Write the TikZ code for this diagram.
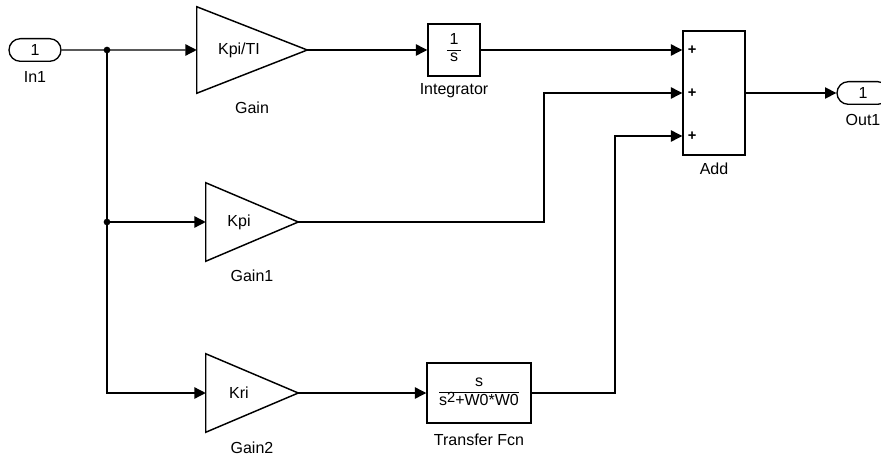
\documentclass[tikz,border=0pt]{standalone}
\usepackage{fontspec}
\setmainfont{Liberation Sans}
\usetikzlibrary{arrows.meta, positioning, shapes.misc, calc}

\begin{document}
\begin{tikzpicture}[
  x=0.75pt, y=-0.75pt,
  every node/.style={font=\fontsize{12}{14}\selectfont},
  port/.style={draw, rounded rectangle, line width=1pt, minimum width=39pt,
               minimum height=17pt, inner sep=0pt},
  blk/.style={draw, line width=1.1pt, inner sep=0pt, align=center},
  tri/.style={inner sep=0pt},
  lbl/.style={inner sep=0pt, text height=9pt, text depth=2.5pt},
  plus/.style={inner sep=0pt, font=\fontsize{11}{11}\selectfont\bfseries},
  arr/.style={-{Triangle[length=8.5pt, width=8.5pt]}, line width=1pt},
  dot/.style={circle, fill, inner sep=0pt, minimum size=5pt}
]
  \useasboundingbox (0,0) rectangle (881,456);
  \clip (0,0) rectangle (881,456);

  % ports
  \node[port] (in1) at (35,50) {1};
  \node[lbl, below=6pt of in1] (in1lbl) {In1};
  \node[port] (out1) at (863,93) {1};
  \node[lbl, below=6pt of out1] (out1lbl) {Out1};

  % gains
  \node[tri, minimum width=82.5pt, minimum height=64.5pt] (gain) at (252,50) {};
  \node[tri, minimum width=69pt, minimum height=58.5pt] (gain1) at (252,222) {};
  \node[tri, minimum width=69pt, minimum height=58.5pt] (gain2) at (252,393) {};
  \foreach \g in {gain, gain1, gain2}
    \draw[line width=1.1pt, line join=miter]
      (\g.north west) -- (\g.east) -- (\g.south west) -- cycle;
  \node[xshift=-9.75pt] (gaintxt) at (gain) {Kpi/TI};
  \node[xshift=-9.75pt] (gain1txt) at (gain1) {Kpi};
  \node[xshift=-9.75pt] (gain2txt) at (gain2) {Kri};
  \node[lbl, below=6pt of gain] (gainlbl) {Gain};
  \node[lbl, below=6pt of gain1] (gain1lbl) {Gain1};
  \node[lbl, below=6.5pt of gain2] (gain2lbl) {Gain2};

  % integrator and transfer function
  \node[blk, minimum width=39pt, minimum height=39pt] (integ) at (454,50)
    {\renewcommand{\arraystretch}{0.85}%
     \begin{tabular}{@{\hspace{2pt}}c@{\hspace{2pt}}}1\\\hline s\end{tabular}};
  \node[lbl, below=4pt of integ] (integlbl) {Integrator};
  \node[blk, minimum width=78pt, minimum height=45pt] (tf) at (479,393)
    {\renewcommand{\arraystretch}{0.9}%
     \begin{tabular}{@{}c@{}}s\\\hline s\raisebox{2.5pt}{\fontsize{11}{11}\selectfont 2}+W0*W0\end{tabular}};
  \node[lbl, below=7pt of tf] (tflbl) {Transfer Fcn};

  % sum block
  \node[blk, minimum width=46.5pt, minimum height=93pt] (add) at (714,93) {};
  \node[lbl, below=5pt of add] (addlbl) {Add};
  \coordinate (add1) at ($(add.west)+(0,-43)$);
  \coordinate (add2) at (add.west);
  \coordinate (add3) at ($(add.west)+(0,43)$);
  \node[plus, right=4pt of add1] (p1) {+};
  \node[plus, right=4pt of add2] (p2) {+};
  \node[plus, right=4pt of add3] (p3) {+};

  % branch points
  \coordinate (j0) at (107,50);
  \node[dot] (j1) at (j0) {};
  \node[dot] (j2) at (j0 |- gain1) {};
  \coordinate (b1) at (544,222);
  \coordinate (b2) at (615,393);

  % signals
  \draw[arr] (in1) -- (gain);
  \draw[arr] (j1.center) |- (gain2.west);
  \draw[arr] (j2.center) -- (gain1.west);
  \draw[arr] (gain.east) -- (integ);
  \draw[arr] (integ) -- (add1);
  \draw[arr] (gain1.east) -- (b1) |- (add2);
  \draw[arr] (gain2.east) -- (tf);
  \draw[arr] (tf) -- (b2) |- (add3);
  \draw[arr] (add) -- (out1);
\end{tikzpicture}
\end{document}
